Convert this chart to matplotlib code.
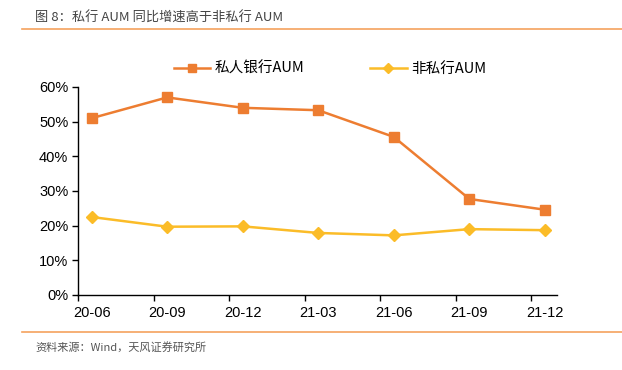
import matplotlib
matplotlib.use("Agg")
import matplotlib.pyplot as plt
from matplotlib.lines import Line2D
from matplotlib.ticker import FixedLocator, NullFormatter

plt.rcParams['font.family'] = ['Noto Sans CJK SC', 'DejaVu Sans']

categories = ["20-06", "20-09", "20-12", "21-03", "21-06", "21-09", "21-12"]
private_aum = [51.0, 57.0, 54.0, 53.3, 45.6, 27.7, 24.6]
nonprivate_aum = [22.5, 19.7, 19.8, 17.9, 17.2, 19.0, 18.7]
yticks = [0, 10, 20, 30, 40, 50, 60]

ORANGE = "#ED7D31"
YELLOW = "#FBBC28"
TICKFONT = ['Liberation Sans', 'DejaVu Sans']

fig = plt.figure(figsize=(6.22, 3.70), dpi=100)
ax = fig.add_axes([78/622, 1-295/370, (557-78)/622, (295-87)/370])

x = list(range(len(categories)))
ax.plot(x, private_aum, color=ORANGE, lw=1.8, marker="s", ms=7.5, label="私人银行AUM")
ax.plot(x, nonprivate_aum, color=YELLOW, lw=1.8, marker="D", ms=6, label="非私行AUM")

off = 0.18
ax.set_xlim(-off, len(categories) - 1 + 0.16)
ax.set_ylim(0, 60)
ax.set_yticks(yticks)
ax.set_yticklabels([f"{v}%" for v in yticks], fontsize=10.5, family=TICKFONT)
ax.xaxis.set_major_locator(FixedLocator([i - off for i in x]))
ax.xaxis.set_major_formatter(NullFormatter())
ax.xaxis.set_minor_locator(FixedLocator(x))
ax.set_xticklabels(categories, minor=True, fontsize=10.5, family=TICKFONT)
ax.tick_params(axis="x", which="minor", length=0, pad=8)
ax.tick_params(axis="x", which="major", length=4, width=1)
ax.tick_params(axis="y", length=4, width=1, pad=3)
for s in ["top", "right"]:
    ax.spines[s].set_visible(False)
for s in ["left", "bottom"]:
    ax.spines[s].set_linewidth(1)
    ax.spines[s].set_color("black")

leg = fig.legend(loc="center", bbox_to_anchor=(330/622, 1-69/370), ncol=2, frameon=False,
                 fontsize=10.5, handlelength=2.5, columnspacing=4.5, handletextpad=0.3,
                 markerscale=0.8)

fig.text(35/622, 1-18/370, "图 8：私行 AUM 同比增速高于非私行 AUM", fontsize=9.5, color="#444444",
         va="center", ha="left")
fig.add_artist(Line2D([22/622, 1], [1-29/370, 1-29/370], color="#F5A25D", lw=1.2))
fig.add_artist(Line2D([22/622, 1], [1-332/370, 1-332/370], color="#F5A25D", lw=1.2))
fig.text(35/622, 1-347/370, "资料来源：Wind，天风证券研究所", fontsize=8, color="#555555",
         va="center", ha="left")

fig.savefig("out.png", dpi=100)
